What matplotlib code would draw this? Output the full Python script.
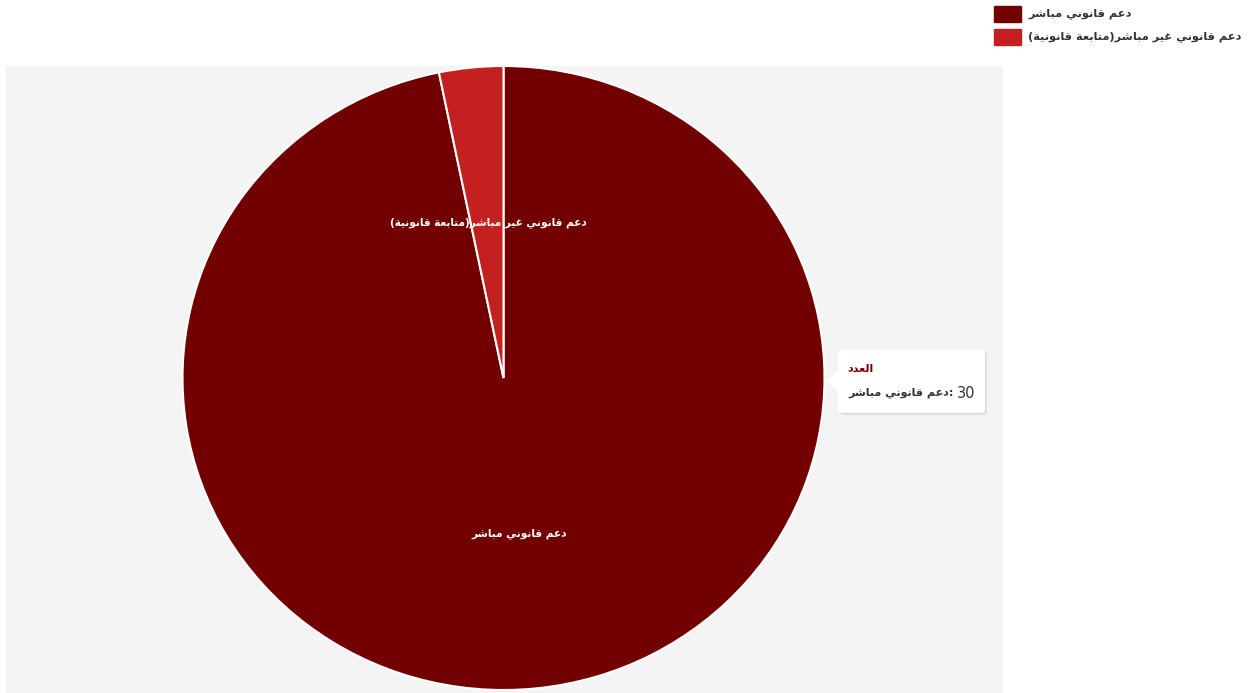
import numpy as np
import matplotlib
matplotlib.use("Agg")
import matplotlib.pyplot as plt
from matplotlib.patches import FancyBboxPatch, Polygon, Rectangle

plt.rcParams["font.family"] = ["DejaVu Sans"]

# data
categories = ["دعم قانوني مباشر", "دعم قانوني غير مباشر(متابعة قانونية)"]
values = [30, 1]
colors = ["#730000", "#c42020"]
series_name = "العدد"

W, H = 1258, 693

# Arabic presentation forms: isolated, final, initial, medial
FORMS = {
    "ا": ("\uFE8D", "\uFE8E", None, None),
    "ب": ("\uFE8F", "\uFE90", "\uFE91", "\uFE92"),
    "ة": ("\uFE93", "\uFE94", None, None),
    "ت": ("\uFE95", "\uFE96", "\uFE97", "\uFE98"),
    "د": ("\uFEA9", "\uFEAA", None, None),
    "ر": ("\uFEAD", "\uFEAE", None, None),
    "ش": ("\uFEB5", "\uFEB6", "\uFEB7", "\uFEB8"),
    "ع": ("\uFEC9", "\uFECA", "\uFECB", "\uFECC"),
    "غ": ("\uFECD", "\uFECE", "\uFECF", "\uFED0"),
    "ق": ("\uFED5", "\uFED6", "\uFED7", "\uFED8"),
    "ل": ("\uFEDD", "\uFEDE", "\uFEDF", "\uFEE0"),
    "م": ("\uFEE1", "\uFEE2", "\uFEE3", "\uFEE4"),
    "ن": ("\uFEE5", "\uFEE6", "\uFEE7", "\uFEE8"),
    "و": ("\uFEED", "\uFEEE", None, None),
    "ي": ("\uFEF1", "\uFEF2", "\uFEF3", "\uFEF4"),
}


def shape(text):
    """Join Arabic letters and put them in visual (left-to-right) order."""
    out = []
    for i, ch in enumerate(text):
        if ch not in FORMS:
            out.append(ch)
            continue
        prev = text[i - 1] if i > 0 else ""
        nxt = text[i + 1] if i < len(text) - 1 else ""
        iso, fin, ini, med = FORMS[ch]
        join_prev = prev in FORMS and FORMS[prev][2] is not None
        join_next = ini is not None and nxt in FORMS
        if join_prev and join_next:
            out.append(med)
        elif join_prev:
            out.append(fin)
        elif join_next:
            out.append(ini)
        else:
            out.append(iso)
    mirror = {"(": ")", ")": "("}
    return "".join(mirror.get(c, c) for c in reversed(out))


fig = plt.figure(figsize=(W / 100, H / 100), dpi=100)
fig.patch.set_facecolor("white")

# plot area in pixel-like units (left 6px, top 66px, down to the bottom edge)
px0, py0, pw, ph = 6, 66, 997, 627
ax = fig.add_axes([px0 / W, 0, pw / W, ph / H])
ax.set_facecolor("#f4f4f4")

rx, ry = 321, 312
yscale = rx / ry
cx, cy = 503.5 - px0, (H - 378) * yscale

wedges, _ = ax.pie(
    values,
    colors=colors,
    startangle=90,
    counterclock=False,
    radius=rx,
    center=(cx, cy),
    wedgeprops=dict(edgecolor="white", linewidth=1.5),
)
ax.set_frame_on(False)
ax.set_aspect("auto")
ax.set_xlim(0, pw)
ax.set_ylim(0, ph * yscale)
ax.set_xticks([])
ax.set_yticks([])
bg = Rectangle((0, 0), 1, 1, transform=ax.transAxes, color="#f4f4f4", zorder=-5)
ax.add_patch(bg)

# labels inside each slice
for w, name in zip(wedges, categories):
    mid = np.deg2rad((w.theta1 + w.theta2) / 2)
    lx = cx + 0.48 * rx * np.cos(mid)
    ly = cy + 0.5 * rx * np.sin(mid)
    ax.text(lx, ly, shape(name), color="white", fontsize=7.6, fontweight="bold",
            ha="center", va="center")

# overlay in figure pixels for legend and tooltip
ov = fig.add_axes([0, 0, 1, 1])
ov.set_xlim(0, W)
ov.set_ylim(H, 0)
ov.axis("off")

for i, (name, c) in enumerate(zip(categories, colors)):
    y = 6 + i * 23
    ov.add_patch(Rectangle((994, y), 27, 16, color=c))
    ov.text(1028, y + 8, shape(name), color="#333333", fontsize=8.2,
            fontweight="bold", ha="left", va="center")

# tooltip for the hovered slice
for k, a in enumerate([0.05, 0.035, 0.02]):
    ov.add_patch(FancyBboxPatch((838 + 1 + k, 350 + 1 + k), 147, 63,
                                boxstyle="round,pad=0,rounding_size=4",
                                fc="black", ec="none", alpha=a))
ov.add_patch(Polygon([[839, 369], [826, 381], [839, 393]], closed=True,
                     fc="white", ec="none", zorder=3))
ov.add_patch(FancyBboxPatch((838, 350), 147, 63,
                            boxstyle="round,pad=0,rounding_size=4",
                            fc="white", ec="none", zorder=2))
ov.text(847, 369, shape(series_name), color="#7a0000", fontsize=8,
        fontweight="bold", ha="left", va="center", zorder=4)
ov.text(975, 393, str(values[0]), color="#333333", fontsize=10.5,
        ha="right", va="center", zorder=4)
ov.text(954, 393, shape(categories[0]) + ":", color="#333333", fontsize=8,
        fontweight="bold", ha="right", va="center", zorder=4)

fig.savefig("out.png", dpi=100, facecolor="white")
